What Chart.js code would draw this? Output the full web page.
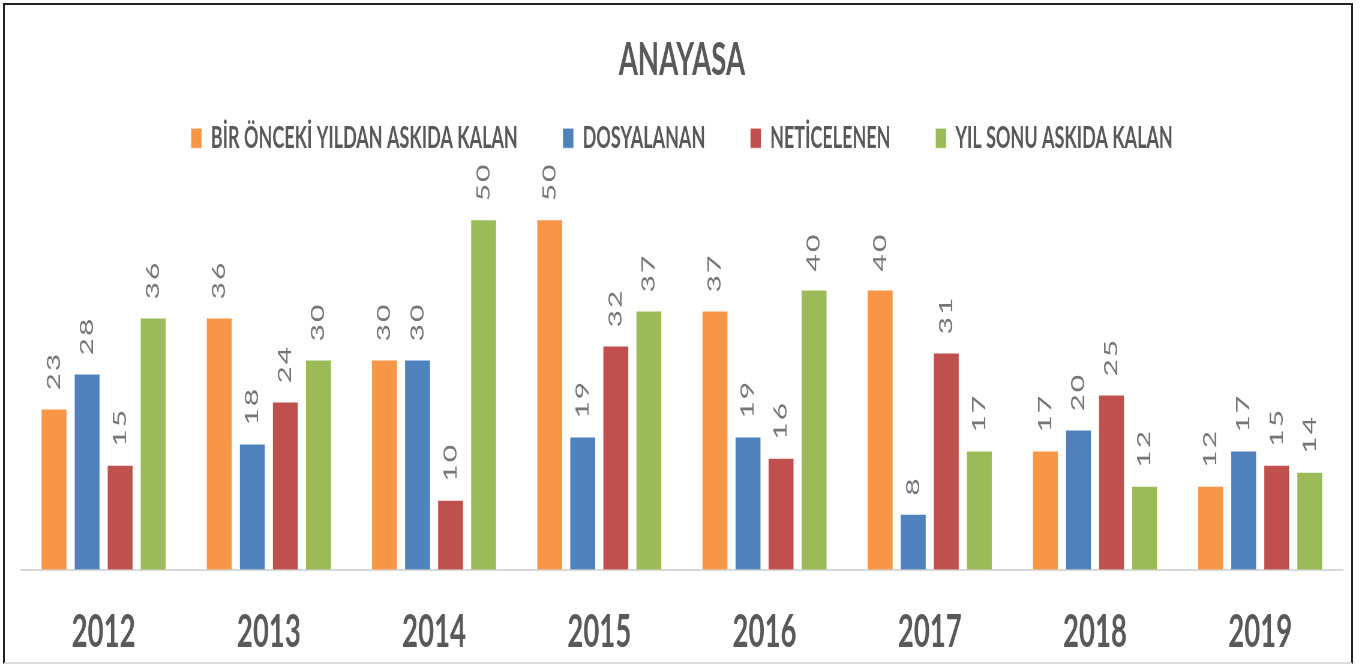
<!DOCTYPE html>
<html>
<head>
<meta charset="utf-8">
<script src="https://cdn.jsdelivr.net/npm/chart.js@4/dist/chart.umd.min.js"></script>
<style>
  body { margin: 0; background: #fff; overflow: hidden; }
  #frame { position: absolute; left: 3px; top: 3px; width: 1346px; height: 657px;
           border: 2px solid #222; border-bottom-color: #ddd; }
  /* the source picture is squeezed sideways, so the canvas is drawn wide and scaled down */
  canvas { position: absolute; left: 0; top: 0; transform: scaleX(0.6); transform-origin: 0 0; }
</style>
</head>
<body>
<div id="frame"></div>
<canvas id="chart" width="2272" height="665"></canvas>
<script>
const years = ['2012', '2013', '2014', '2015', '2016', '2017', '2018', '2019'];
const seriesNames = ['BİR ÖNCEKİ YILDAN ASKIDA KALAN', 'DOSYALANAN', 'NETİCELENEN', 'YIL SONU ASKIDA KALAN'];
const oncekiYil = [23, 36, 30, 50, 37, 40, 17, 12];
const dosyalanan = [28, 18, 30, 19, 19, 8, 20, 17];
const neticelenen = [15, 24, 10, 32, 16, 31, 25, 15];
const yilSonu = [36, 30, 50, 37, 40, 17, 12, 14];
const colors = ['#F79646', '#4F81BD', '#C0504D', '#9BBB59'];

const font = "Lato, 'Open Sans', sans-serif";

// rotated value labels above each bar
const barLabels = {
  id: 'barLabels',
  afterDatasetsDraw(chart) {
    const ctx = chart.ctx;
    ctx.save();
    ctx.fillStyle = '#767676';
    ctx.font = '30px ' + font;
    ctx.letterSpacing = '2px';
    ctx.textAlign = 'left';
    ctx.textBaseline = 'middle';
    chart.data.datasets.forEach((ds, i) => {
      chart.getDatasetMeta(i).data.forEach((bar, j) => {
        ctx.save();
        ctx.translate(bar.x, bar.y - 18);
        ctx.rotate(-Math.PI / 2);
        ctx.fillText(String(ds.data[j]), 0, 0);
        ctx.restore();
      });
    });
    ctx.restore();
  }
};

const values = [oncekiYil, dosyalanan, neticelenen, yilSonu];

new Chart(document.getElementById('chart'), {
  type: 'bar',
  data: {
    labels: years,
    datasets: values.map((v, i) => ({
      label: seriesNames[i],
      data: v,
      backgroundColor: colors[i],
      borderColor: 'rgba(255,255,255,0.6)',
      borderWidth: 1,
      categoryPercentage: 0.8,
      barPercentage: 0.79,
    })),
  },
  options: {
    responsive: false,
    animation: false,
    layout: { padding: { left: 35, right: 34, top: 0, bottom: -30 } },
    plugins: {
      title: {
        display: true,
        text: 'ANAYASA',
        color: '#595959',
        font: { family: font, size: 46, weight: 'bold' },
        padding: { top: 33, bottom: -40 },
      },
      legend: {
        position: 'top',
        labels: {
          color: '#595959',
          font: { family: font, size: 30, weight: 'bold' },
          boxWidth: 18,
          boxHeight: 20,
          padding: 75,
        },
      },
      tooltip: { enabled: false },
    },
    scales: {
      x: {
        grid: { display: false, drawTicks: false },
        border: { display: true, color: '#d9d9d9', width: 2 },
        ticks: {
          color: '#595959',
          padding: 35,
          font: { family: font, size: 46, weight: 'bold' },
        },
      },
      y: {
        display: false,
        min: 0,
        max: 58,
      },
    },
  },
  plugins: [barLabels],
});
</script>
</body>
</html>
